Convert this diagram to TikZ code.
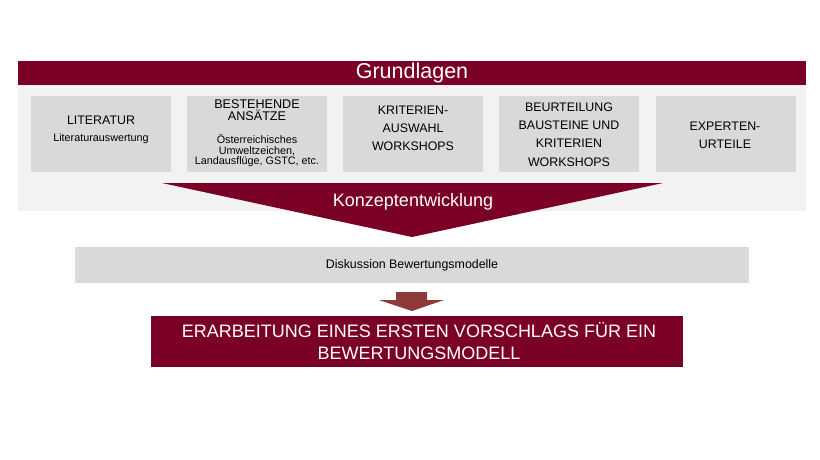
\documentclass[tikz,border=0pt]{standalone}
\usepackage{fontspec}
\setmainfont{Liberation Sans}
\definecolor{dred}{HTML}{7A0026}
\definecolor{panel}{HTML}{F2F2F2}
\definecolor{boxg}{HTML}{D9D9D9}
\definecolor{arr}{HTML}{8E3A3A}
\begin{document}
\begin{tikzpicture}[x=1pt,y=-1pt,
  box/.style={fill=boxg,draw=none,minimum width=140pt,minimum height=76pt,inner sep=0pt,anchor=north west},
  hd/.style={font=\fontsize{12.4}{18}\selectfont,align=center,inner sep=0pt},
  sub/.style={font=\fontsize{10.8}{10.5}\selectfont,align=center,inner sep=0pt}]
\useasboundingbox (0,0) rectangle (820,460);
\fill[white] (0,0) rectangle (820,460);
% panel and banner
\node[fill=panel,minimum width=788pt,minimum height=126pt,inner sep=0pt,anchor=north west] (panel) at (18,85) {};
\node[fill=dred,minimum width=788pt,minimum height=24pt,inner sep=0pt,anchor=north west] (banner) at (18,61) {};
\node[text=white,font=\fontsize{21.5}{22}\selectfont,inner sep=0pt] (grund) at (412,73) {Grundlagen};
% boxes
\node[box] (b1) at (31,96) {};
\node[box] (b2) at (187,96) {};
\node[box] (b3) at (343,96) {};
\node[box] (b4) at (499,96) {};
\node[box] (b5) at (656,96) {};
\node[hd] (t1) at (101,120) {LITERATUR};
\node[sub] (s1) at (101,139) {Literaturauswertung};
\node[hd,font=\fontsize{12.6}{12.5}\selectfont] (t2) at (257,110) {BESTEHENDE\\ANSÄTZE};
\node[sub] (s2) at (257,151) {Österreichisches\\Umweltzeichen,\\Landausflüge, GSTC, etc.};
\node[hd] (t3) at (413,128) {KRITERIEN-\\AUSWAHL\\WORKSHOPS};
\node[hd] (t4) at (569,134.5) {BEURTEILUNG\\BAUSTEINE UND\\KRITERIEN\\[1.5pt]WORKSHOPS};
\node[hd] (t5) at (725,135) {EXPERTEN-\\URTEILE};
% funnel
\coordinate (fl) at (162,183);
\coordinate (fr) at (663,183);
\coordinate (fa) at (412,237);
\fill[dred] (fl) -- (fr) -- (fa) -- cycle;
\node[text=white,font=\fontsize{18}{20}\selectfont,inner sep=0pt] (konz) at (413,202) {Konzeptentwicklung};
% discussion
\node[fill=boxg,minimum width=674pt,minimum height=36pt,inner sep=0pt,anchor=north west] (disk) at (75,247) {};
\node[font=\fontsize{12.4}{14}\selectfont,inner sep=0pt] (dtext) at (412,265.5) {Diskussion Bewertungsmodelle};
% small arrow
\coordinate (a1) at (396,292);
\coordinate (a2) at (427,292);
\coordinate (a3) at (427,300);
\coordinate (a4) at (444,300);
\coordinate (a5) at (412,311);
\coordinate (a6) at (379,300);
\coordinate (a7) at (396,300);
\fill[arr] (a1) -- (a2) -- (a3) -- (a4) -- (a5) -- (a6) -- (a7) -- cycle;
% result box
\node[fill=dred,minimum width=532pt,minimum height=51pt,inner sep=0pt,anchor=north west] (res) at (151,316) {};
\node[text=white,font=\fontsize{18}{22}\selectfont,align=center,inner sep=0pt] (rtext) at (419,341.5) {ERARBEITUNG EINES ERSTEN VORSCHLAGS FÜR EIN\\BEWERTUNGSMODELL};
\end{tikzpicture}
\end{document}
